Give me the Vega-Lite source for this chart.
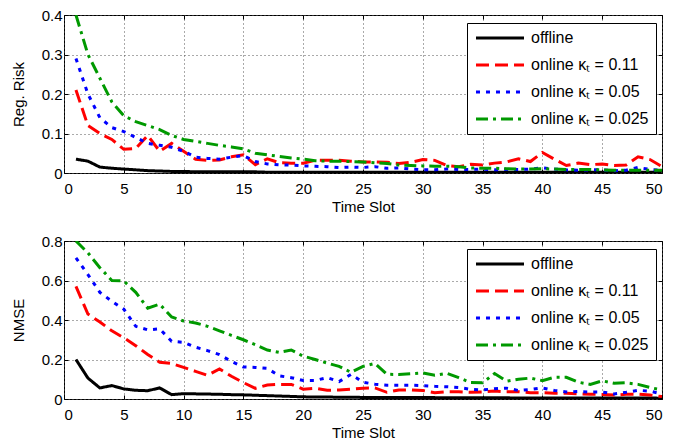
{
  "$schema": "https://vega.github.io/schema/vega-lite/v6.json",
  "padding": {"left": 10, "top": 7, "right": 5, "bottom": 5},
  "config": {
    "font": "Liberation Sans",
    "view": {"stroke": "black", "strokeWidth": 1},
    "axis": {
      "labelFontSize": 15, "titleFontSize": 15, "titleFontWeight": "normal",
      "labelColor": "black", "titleColor": "black",
      "grid": true, "gridDash": [1, 3], "gridColor": "#555", "gridWidth": 1,
      "domain": false, "tickColor": "black", "tickSize": -4, "labelPadding": 6
    },
    "axisLeft": {"titlePadding": 8, "minExtent": 30, "maxExtent": 30},
    "axisBottom": {"titlePadding": 3, "labelPadding": 12},
    "axisTop": {"labels": false, "grid": false, "title": null, "minExtent": 0, "maxExtent": 0},
    "axisRight": {"labels": false, "grid": false, "title": null, "minExtent": 0, "maxExtent": 0},
    "legend": {
      "orient": "none", "legendX": 403, "legendY": 8, "fillColor": "white", "strokeColor": "black",
      "padding": 7, "symbolType": "M-1,0H7", "symbolSize": 144, "symbolStrokeWidth": 3,
      "labelFontSize": 16, "labelOffset": 41, "labelLimit": 300, "labelColor": "black",
      "rowPadding": 11
    }
  },
  "datasets": {
    "risk": [
      {"t":1,"off":0.035,"k11":0.21,"k05":0.29,"k025":0.40},
      {"t":2,"off":0.030,"k11":0.12,"k05":0.20,"k025":0.30},
      {"t":3,"off":0.015,"k11":0.10,"k05":0.14,"k025":0.24},
      {"t":4,"off":0.012,"k11":0.085,"k05":0.115,"k025":0.18},
      {"t":5,"off":0.010,"k11":0.060,"k05":0.105,"k025":0.145},
      {"t":6,"off":0.008,"k11":0.062,"k05":0.090,"k025":0.130},
      {"t":7,"off":0.006,"k11":0.095,"k05":0.075,"k025":0.120},
      {"t":8,"off":0.005,"k11":0.055,"k05":0.070,"k025":0.110},
      {"t":9,"off":0.004,"k11":0.075,"k05":0.065,"k025":0.095},
      {"t":10,"off":0.004,"k11":0.055,"k05":0.055,"k025":0.085},
      {"t":11,"off":0.003,"k11":0.035,"k05":0.040,"k025":0.080},
      {"t":12,"off":0.003,"k11":0.032,"k05":0.037,"k025":0.075},
      {"t":13,"off":0.003,"k11":0.033,"k05":0.035,"k025":0.070},
      {"t":14,"off":0.003,"k11":0.041,"k05":0.040,"k025":0.066},
      {"t":15,"off":0.003,"k11":0.046,"k05":0.044,"k025":0.061},
      {"t":16,"off":0.003,"k11":0.021,"k05":0.029,"k025":0.050},
      {"t":17,"off":0.002,"k11":0.036,"k05":0.023,"k025":0.046},
      {"t":18,"off":0.002,"k11":0.026,"k05":0.021,"k025":0.042},
      {"t":19,"off":0.002,"k11":0.025,"k05":0.020,"k025":0.038},
      {"t":20,"off":0.002,"k11":0.025,"k05":0.018,"k025":0.035},
      {"t":21,"off":0.002,"k11":0.032,"k05":0.017,"k025":0.031},
      {"t":22,"off":0.002,"k11":0.032,"k05":0.016,"k025":0.030},
      {"t":23,"off":0.002,"k11":0.032,"k05":0.014,"k025":0.030},
      {"t":24,"off":0.002,"k11":0.030,"k05":0.015,"k025":0.029},
      {"t":25,"off":0.002,"k11":0.028,"k05":0.014,"k025":0.028},
      {"t":26,"off":0.002,"k11":0.028,"k05":0.016,"k025":0.026},
      {"t":27,"off":0.002,"k11":0.027,"k05":0.012,"k025":0.024},
      {"t":28,"off":0.002,"k11":0.024,"k05":0.013,"k025":0.020},
      {"t":29,"off":0.002,"k11":0.027,"k05":0.010,"k025":0.019},
      {"t":30,"off":0.002,"k11":0.034,"k05":0.008,"k025":0.018},
      {"t":31,"off":0.002,"k11":0.032,"k05":0.008,"k025":0.017},
      {"t":32,"off":0.002,"k11":0.019,"k05":0.010,"k025":0.017},
      {"t":33,"off":0.002,"k11":0.016,"k05":0.009,"k025":0.016},
      {"t":34,"off":0.002,"k11":0.022,"k05":0.009,"k025":0.013},
      {"t":35,"off":0.002,"k11":0.020,"k05":0.010,"k025":0.012},
      {"t":36,"off":0.002,"k11":0.025,"k05":0.008,"k025":0.012},
      {"t":37,"off":0.002,"k11":0.028,"k05":0.009,"k025":0.011},
      {"t":38,"off":0.002,"k11":0.036,"k05":0.009,"k025":0.010},
      {"t":39,"off":0.002,"k11":0.029,"k05":0.010,"k025":0.010},
      {"t":40,"off":0.002,"k11":0.052,"k05":0.013,"k025":0.011},
      {"t":41,"off":0.002,"k11":0.035,"k05":0.010,"k025":0.010},
      {"t":42,"off":0.002,"k11":0.019,"k05":0.008,"k025":0.009},
      {"t":43,"off":0.002,"k11":0.025,"k05":0.007,"k025":0.009},
      {"t":44,"off":0.002,"k11":0.021,"k05":0.008,"k025":0.009},
      {"t":45,"off":0.002,"k11":0.023,"k05":0.008,"k025":0.008},
      {"t":46,"off":0.002,"k11":0.019,"k05":0.006,"k025":0.007},
      {"t":47,"off":0.002,"k11":0.020,"k05":0.007,"k025":0.007},
      {"t":48,"off":0.002,"k11":0.041,"k05":0.014,"k025":0.007},
      {"t":49,"off":0.002,"k11":0.034,"k05":0.009,"k025":0.007},
      {"t":50,"off":0.002,"k11":0.016,"k05":0.007,"k025":0.007}
    ],
    "nmse": [
      {"t":1,"off":0.200,"k11":0.570,"k05":0.715,"k025":0.800},
      {"t":2,"off":0.106,"k11":0.430,"k05":0.630,"k025":0.740},
      {"t":3,"off":0.056,"k11":0.390,"k05":0.540,"k025":0.665},
      {"t":4,"off":0.068,"k11":0.345,"k05":0.495,"k025":0.600},
      {"t":5,"off":0.051,"k11":0.310,"k05":0.455,"k025":0.598},
      {"t":6,"off":0.044,"k11":0.270,"k05":0.368,"k025":0.540},
      {"t":7,"off":0.042,"k11":0.225,"k05":0.350,"k025":0.460},
      {"t":8,"off":0.056,"k11":0.186,"k05":0.355,"k025":0.480},
      {"t":9,"off":0.022,"k11":0.180,"k05":0.292,"k025":0.415},
      {"t":10,"off":0.027,"k11":0.160,"k05":0.287,"k025":0.395},
      {"t":11,"off":0.026,"k11":0.140,"k05":0.262,"k025":0.385},
      {"t":12,"off":0.025,"k11":0.120,"k05":0.245,"k025":0.368},
      {"t":13,"off":0.024,"k11":0.152,"k05":0.225,"k025":0.345},
      {"t":14,"off":0.022,"k11":0.115,"k05":0.190,"k025":0.322},
      {"t":15,"off":0.021,"k11":0.083,"k05":0.162,"k025":0.300},
      {"t":16,"off":0.019,"k11":0.054,"k05":0.160,"k025":0.275},
      {"t":17,"off":0.017,"k11":0.071,"k05":0.155,"k025":0.248},
      {"t":18,"off":0.015,"k11":0.074,"k05":0.117,"k025":0.236},
      {"t":19,"off":0.013,"k11":0.074,"k05":0.108,"k025":0.248},
      {"t":20,"off":0.011,"k11":0.050,"k05":0.094,"k025":0.217},
      {"t":21,"off":0.010,"k11":0.054,"k05":0.094,"k025":0.200},
      {"t":22,"off":0.010,"k11":0.044,"k05":0.108,"k025":0.182},
      {"t":23,"off":0.009,"k11":0.046,"k05":0.088,"k025":0.165},
      {"t":24,"off":0.009,"k11":0.050,"k05":0.125,"k025":0.135},
      {"t":25,"off":0.008,"k11":0.055,"k05":0.085,"k025":0.165},
      {"t":26,"off":0.008,"k11":0.056,"k05":0.075,"k025":0.180},
      {"t":27,"off":0.008,"k11":0.034,"k05":0.070,"k025":0.125},
      {"t":28,"off":0.007,"k11":0.046,"k05":0.070,"k025":0.124},
      {"t":29,"off":0.007,"k11":0.046,"k05":0.070,"k025":0.128},
      {"t":30,"off":0.007,"k11":0.043,"k05":0.068,"k025":0.132},
      {"t":31,"off":0.007,"k11":0.032,"k05":0.064,"k025":0.120},
      {"t":32,"off":0.006,"k11":0.037,"k05":0.062,"k025":0.130},
      {"t":33,"off":0.006,"k11":0.037,"k05":0.058,"k025":0.108},
      {"t":34,"off":0.006,"k11":0.034,"k05":0.049,"k025":0.083},
      {"t":35,"off":0.006,"k11":0.036,"k05":0.046,"k025":0.082},
      {"t":36,"off":0.006,"k11":0.040,"k05":0.052,"k025":0.129},
      {"t":37,"off":0.006,"k11":0.037,"k05":0.055,"k025":0.090},
      {"t":38,"off":0.005,"k11":0.037,"k05":0.043,"k025":0.100},
      {"t":39,"off":0.005,"k11":0.032,"k05":0.048,"k025":0.106},
      {"t":40,"off":0.005,"k11":0.032,"k05":0.056,"k025":0.093},
      {"t":41,"off":0.005,"k11":0.029,"k05":0.043,"k025":0.110},
      {"t":42,"off":0.005,"k11":0.029,"k05":0.036,"k025":0.110},
      {"t":43,"off":0.005,"k11":0.026,"k05":0.038,"k025":0.085},
      {"t":44,"off":0.005,"k11":0.024,"k05":0.035,"k025":0.074},
      {"t":45,"off":0.005,"k11":0.023,"k05":0.035,"k025":0.092},
      {"t":46,"off":0.005,"k11":0.020,"k05":0.026,"k025":0.080},
      {"t":47,"off":0.005,"k11":0.024,"k05":0.034,"k025":0.082},
      {"t":48,"off":0.005,"k11":0.024,"k05":0.044,"k025":0.074},
      {"t":49,"off":0.005,"k11":0.020,"k05":0.040,"k025":0.058},
      {"t":50,"off":0.004,"k11":0.012,"k05":0.025,"k025":0.046}
    ]
  },
  "spacing": 18,
  "vconcat": [
    {
      "width": 598, "height": 158,
      "data": {"name": "risk"},
      "transform": [{"fold": ["off", "k11", "k05", "k025"], "as": ["s", "v"]}],
      "layer": [
        {
          "mark": {"type": "line", "strokeWidth": 3, "clip": true},
          "encoding": {
            "x": {"field": "t", "type": "quantitative", "scale": {"domain": [0, 50], "nice": false},
                  "axis": {"orient": "bottom", "values": [0,5,10,15,20,25,30,35,40,45,50], "title": "Time Slot"}},
            "y": {"field": "v", "type": "quantitative", "scale": {"domain": [0, 0.4], "nice": false},
                  "axis": {"orient": "left", "values": [0,0.1,0.2,0.3,0.4], "title": "Reg. Risk",
                           "labelExpr": "datum.value == 0 ? '0' : format(datum.value, '.1f')"}},
            "color": {"field": "s", "type": "nominal",
                      "scale": {"domain": ["off","k11","k05","k025"], "range": ["#000000","#ff0000","#0000ff","#009900"]},
                      "legend": {"title": null, "labelExpr": "datum.label == 'off' ? 'offline' : datum.label == 'k11' ? 'online κₜ = 0.11' : datum.label == 'k05' ? 'online κₜ = 0.05' : 'online κₜ = 0.025'"}},
            "strokeDash": {"field": "s", "type": "nominal",
                      "scale": {"domain": ["off","k11","k05","k025"], "range": [[1,0],[13,6],[4,6],[12,5,3,5]]},
                      "legend": {"title": null, "labelExpr": "datum.label == 'off' ? 'offline' : datum.label == 'k11' ? 'online κₜ = 0.11' : datum.label == 'k05' ? 'online κₜ = 0.05' : 'online κₜ = 0.025'"}}
          }
        },
        {
          "mark": {"type": "line", "opacity": 0},
          "encoding": {
            "x": {"field": "t", "type": "quantitative",
                  "axis": {"orient": "top", "values": [0,5,10,15,20,25,30,35,40,45,50]}},
            "y": {"field": "v", "type": "quantitative",
                  "axis": {"orient": "right", "values": [0,0.1,0.2,0.3,0.4]}},
            "detail": {"field": "s"}
          }
        }
      ],
      "resolve": {"axis": {"x": "independent", "y": "independent"}}
    },
    {
      "width": 598, "height": 158,
      "data": {"name": "nmse"},
      "transform": [{"fold": ["off", "k11", "k05", "k025"], "as": ["s", "v"]}],
      "layer": [
        {
          "mark": {"type": "line", "strokeWidth": 3, "clip": true},
          "encoding": {
            "x": {"field": "t", "type": "quantitative", "scale": {"domain": [0, 50], "nice": false},
                  "axis": {"orient": "bottom", "values": [0,5,10,15,20,25,30,35,40,45,50], "title": "Time Slot"}},
            "y": {"field": "v", "type": "quantitative", "scale": {"domain": [0, 0.8], "nice": false},
                  "axis": {"orient": "left", "values": [0,0.2,0.4,0.6,0.8], "title": "NMSE",
                           "labelExpr": "datum.value == 0 ? '0' : format(datum.value, '.1f')"}},
            "color": {"field": "s", "type": "nominal",
                      "scale": {"domain": ["off","k11","k05","k025"], "range": ["#000000","#ff0000","#0000ff","#009900"]},
                      "legend": {"title": null, "labelExpr": "datum.label == 'off' ? 'offline' : datum.label == 'k11' ? 'online κₜ = 0.11' : datum.label == 'k05' ? 'online κₜ = 0.05' : 'online κₜ = 0.025'"}},
            "strokeDash": {"field": "s", "type": "nominal",
                      "scale": {"domain": ["off","k11","k05","k025"], "range": [[1,0],[13,6],[4,6],[12,5,3,5]]},
                      "legend": {"title": null, "labelExpr": "datum.label == 'off' ? 'offline' : datum.label == 'k11' ? 'online κₜ = 0.11' : datum.label == 'k05' ? 'online κₜ = 0.05' : 'online κₜ = 0.025'"}}
          }
        },
        {
          "mark": {"type": "line", "opacity": 0},
          "encoding": {
            "x": {"field": "t", "type": "quantitative",
                  "axis": {"orient": "top", "values": [0,5,10,15,20,25,30,35,40,45,50]}},
            "y": {"field": "v", "type": "quantitative",
                  "axis": {"orient": "right", "values": [0,0.2,0.4,0.6,0.8]}},
            "detail": {"field": "s"}
          }
        }
      ],
      "resolve": {"axis": {"x": "independent", "y": "independent"}}
    }
  ],
  "resolve": {
    "scale": {"color": "independent", "strokeDash": "independent"},
    "legend": {"color": "independent", "strokeDash": "independent"}
  }
}
